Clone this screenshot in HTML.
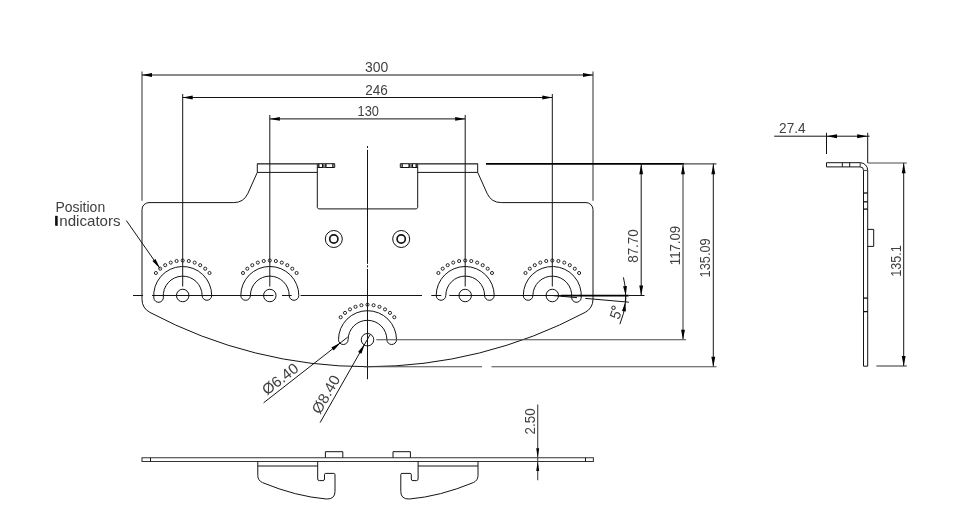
<!DOCTYPE html>
<html lang="en">
<head>
<meta charset="utf-8">
<title>Bracket drawing</title>
<style>
html,body{margin:0;padding:0;background:#fff;}
body{width:974px;height:525px;overflow:hidden;font-family:"Liberation Sans",sans-serif;}
svg{display:block;filter:blur(0.2px);}
.l{stroke:#141414;stroke-width:1;fill:none;}
.g{stroke:#4a4a4a;stroke-width:1.15;fill:none;}
.g2{stroke:#333;stroke-width:1.05;fill:none;}
.d{stroke:#1c1c1c;stroke-width:.95;fill:none;}
.k{stroke:#111;stroke-width:1.5;fill:none;}
.k3{stroke:#161616;stroke-width:1.7;fill:none;}
.g3{stroke:#505050;stroke-width:1.6;fill:none;}
.h{stroke:#111;stroke-width:1.3;fill:none;}
.k2{stroke:#000;stroke-width:1.8;fill:none;}
.a{fill:#000;stroke:none;}
text{font-family:"Liberation Sans",sans-serif;font-size:15px;fill:#404040;}
</style>
</head>
<body>
<svg width="974" height="525" viewBox="0 0 974 525">
<rect width="974" height="525" fill="#fff"/>
<path class="l" d="M153.81 298.03 A29 29 0 1 1 211.7 295.5 A4.8 4.8 0 0 1 202.1 295.5 A19.4 19.4 0 1 0 163.37 297.19 A4.8 4.8 0 0 1 153.81 298.03 Z"/>
<circle class="l" cx="182.7" cy="295.5" r="6.25"/>
<circle class="d" cx="209.51" cy="273" r="1.55"/>
<circle class="d" cx="205.2" cy="268.69" r="1.55"/>
<circle class="d" cx="200.2" cy="265.19" r="1.55"/>
<circle class="d" cx="194.67" cy="262.61" r="1.55"/>
<circle class="d" cx="188.78" cy="261.03" r="1.55"/>
<circle class="d" cx="182.7" cy="260.5" r="1.55"/>
<circle class="d" cx="176.62" cy="261.03" r="1.55"/>
<circle class="d" cx="170.73" cy="262.61" r="1.55"/>
<circle class="d" cx="165.2" cy="265.19" r="1.55"/>
<circle class="d" cx="160.2" cy="268.69" r="1.55"/>
<circle class="d" cx="155.89" cy="273" r="1.55"/>
<path class="l" d="M240.8 295.5 A29 29 0 1 1 298.8 295.5 A4.8 4.8 0 0 1 289.2 295.5 A19.4 19.4 0 1 0 250.4 295.5 A4.8 4.8 0 0 1 240.8 295.5 Z"/>
<circle class="l" cx="269.8" cy="295.5" r="6.25"/>
<circle class="d" cx="296.61" cy="273" r="1.55"/>
<circle class="d" cx="292.3" cy="268.69" r="1.55"/>
<circle class="d" cx="287.3" cy="265.19" r="1.55"/>
<circle class="d" cx="281.77" cy="262.61" r="1.55"/>
<circle class="d" cx="275.88" cy="261.03" r="1.55"/>
<circle class="d" cx="269.8" cy="260.5" r="1.55"/>
<circle class="d" cx="263.72" cy="261.03" r="1.55"/>
<circle class="d" cx="257.83" cy="262.61" r="1.55"/>
<circle class="d" cx="252.3" cy="265.19" r="1.55"/>
<circle class="d" cx="247.3" cy="268.69" r="1.55"/>
<circle class="d" cx="242.99" cy="273" r="1.55"/>
<path class="l" d="M436.2 295.5 A29 29 0 1 1 494.2 295.5 A4.8 4.8 0 0 1 484.6 295.5 A19.4 19.4 0 1 0 445.8 295.5 A4.8 4.8 0 0 1 436.2 295.5 Z"/>
<circle class="l" cx="465.2" cy="295.5" r="6.25"/>
<circle class="d" cx="492.01" cy="273" r="1.55"/>
<circle class="d" cx="487.7" cy="268.69" r="1.55"/>
<circle class="d" cx="482.7" cy="265.19" r="1.55"/>
<circle class="d" cx="477.17" cy="262.61" r="1.55"/>
<circle class="d" cx="471.28" cy="261.03" r="1.55"/>
<circle class="d" cx="465.2" cy="260.5" r="1.55"/>
<circle class="d" cx="459.12" cy="261.03" r="1.55"/>
<circle class="d" cx="453.23" cy="262.61" r="1.55"/>
<circle class="d" cx="447.7" cy="265.19" r="1.55"/>
<circle class="d" cx="442.7" cy="268.69" r="1.55"/>
<circle class="d" cx="438.39" cy="273" r="1.55"/>
<path class="l" d="M523.3 295.5 A29 29 0 1 1 581.19 298.03 A4.8 4.8 0 0 1 571.63 297.19 A19.4 19.4 0 1 0 532.9 295.5 A4.8 4.8 0 0 1 523.3 295.5 Z"/>
<circle class="l" cx="552.3" cy="295.5" r="6.25"/>
<circle class="d" cx="579.11" cy="273" r="1.55"/>
<circle class="d" cx="574.8" cy="268.69" r="1.55"/>
<circle class="d" cx="569.8" cy="265.19" r="1.55"/>
<circle class="d" cx="564.27" cy="262.61" r="1.55"/>
<circle class="d" cx="558.38" cy="261.03" r="1.55"/>
<circle class="d" cx="552.3" cy="260.5" r="1.55"/>
<circle class="d" cx="546.22" cy="261.03" r="1.55"/>
<circle class="d" cx="540.33" cy="262.61" r="1.55"/>
<circle class="d" cx="534.8" cy="265.19" r="1.55"/>
<circle class="d" cx="529.8" cy="268.69" r="1.55"/>
<circle class="d" cx="525.49" cy="273" r="1.55"/>
<path class="l" d="M338.5 339.7 A29 29 0 1 1 396.5 339.7 A4.8 4.8 0 0 1 386.9 339.7 A19.4 19.4 0 1 0 348.1 339.7 A4.8 4.8 0 0 1 338.5 339.7 Z"/>
<circle class="l" cx="367.5" cy="339.7" r="6.25"/>
<circle class="d" cx="394.31" cy="317.2" r="1.55"/>
<circle class="d" cx="390" cy="312.89" r="1.55"/>
<circle class="d" cx="385" cy="309.39" r="1.55"/>
<circle class="d" cx="379.47" cy="306.81" r="1.55"/>
<circle class="d" cx="373.58" cy="305.23" r="1.55"/>
<circle class="d" cx="367.5" cy="304.7" r="1.55"/>
<circle class="d" cx="361.42" cy="305.23" r="1.55"/>
<circle class="d" cx="355.53" cy="306.81" r="1.55"/>
<circle class="d" cx="350" cy="309.39" r="1.55"/>
<circle class="d" cx="345" cy="312.89" r="1.55"/>
<circle class="d" cx="340.69" cy="317.2" r="1.55"/>
<path class="l" d="M142 299.17 L142 209.6 A7 7 0 0 1 149 202.6 L233.7 202.6 A15.5 15.5 0 0 0 247.8 193.6 L257.3 172.4 L257.3 163.7 L317.3 163.7 L317.3 207.6 L318.5 208.9 L416.5 208.9 L417.7 207.6 L417.7 163.7 L477.7 163.7 L477.7 172.4 L487.2 193.6 A15.5 15.5 0 0 0 501.3 202.6 L586 202.6 A7 7 0 0 1 593 209.6 L593 299.17 A15 15 0 0 1 585.05 312.41 A463 463 0 0 1 149.95 312.41 A15 15 0 0 1 142 299.17 Z"/>
<line class="l" x1="257.3" y1="172.4" x2="317.3" y2="172.4"/>
<line class="l" x1="477.7" y1="172.4" x2="417.7" y2="172.4"/>
<path class="l" d="M317.3 163.7 L334.7 163.7 L334.7 167.5 L317.3 167.5"/>
<rect x="322.6" y="163.7" width="3.3" height="3.8" fill="#8a8a8a"/>
<line class="g3" x1="257.3" y1="163.7" x2="317.3" y2="163.7"/>
<line class="h" x1="318.8" y1="163.7" x2="318.8" y2="167.5"/>
<line class="h" x1="322.6" y1="163.7" x2="322.6" y2="167.5"/>
<line class="h" x1="325.9" y1="163.7" x2="325.9" y2="167.5"/>
<line class="h" x1="332.9" y1="163.7" x2="332.9" y2="167.5"/>
<path class="l" d="M417.7 163.7 L400.3 163.7 L400.3 167.5 L417.7 167.5"/>
<rect x="409.1" y="163.7" width="3.3" height="3.8" fill="#8a8a8a"/>
<line class="g3" x1="477.7" y1="163.7" x2="417.7" y2="163.7"/>
<line class="h" x1="416.2" y1="163.7" x2="416.2" y2="167.5"/>
<line class="h" x1="412.4" y1="163.7" x2="412.4" y2="167.5"/>
<line class="h" x1="409.1" y1="163.7" x2="409.1" y2="167.5"/>
<line class="h" x1="402.1" y1="163.7" x2="402.1" y2="167.5"/>
<circle class="l" cx="333.8" cy="239" r="8.5"/>
<circle class="k3" cx="333.8" cy="239" r="4.1"/>
<circle class="l" cx="401.2" cy="239" r="8.5"/>
<circle class="k3" cx="401.2" cy="239" r="4.1"/>
<line class="l" x1="367.5" y1="146" x2="367.5" y2="148"/>
<line class="l" x1="367.5" y1="149.8" x2="367.5" y2="263.9"/>
<line class="l" x1="367.5" y1="265.3" x2="367.5" y2="267.4"/>
<line class="l" x1="367.5" y1="269" x2="367.5" y2="379.2"/>
<line class="l" x1="133" y1="295.5" x2="143" y2="295.5"/>
<line class="l" x1="152" y1="295.5" x2="273.5" y2="295.5"/>
<line class="l" x1="282" y1="295.5" x2="291.7" y2="295.5"/>
<line class="l" x1="300.6" y1="295.5" x2="422" y2="295.5"/>
<line class="l" x1="431.3" y1="295.5" x2="441.3" y2="295.5"/>
<line class="l" x1="449.3" y1="295.5" x2="561" y2="295.5"/>
<line class="g" x1="142" y1="71.5" x2="142" y2="200.8"/>
<line class="g" x1="593" y1="71.5" x2="593" y2="200.8"/>
<line class="l" x1="142" y1="75" x2="593" y2="75"/>
<polygon class="a" points="142,75 152,73.05 152,76.95"/>
<polygon class="a" points="593,75 583,76.95 583,73.05"/>
<line class="l" x1="182.7" y1="94" x2="182.7" y2="286.5"/>
<line class="l" x1="552.3" y1="94" x2="552.3" y2="286.5"/>
<line class="l" x1="182.7" y1="97.5" x2="552.3" y2="97.5"/>
<polygon class="a" points="182.7,97.5 192.7,95.55 192.7,99.45"/>
<polygon class="a" points="552.3,97.5 542.3,99.45 542.3,95.55"/>
<line class="l" x1="269.8" y1="115" x2="269.8" y2="286.5"/>
<line class="l" x1="465.2" y1="115" x2="465.2" y2="286.5"/>
<line class="l" x1="269.8" y1="118.9" x2="465.2" y2="118.9"/>
<polygon class="a" points="269.8,118.9 279.8,116.95 279.8,120.85"/>
<polygon class="a" points="465.2,118.9 455.2,120.85 455.2,116.95"/>
<text x="365" y="71.9" textLength="23.3" lengthAdjust="spacingAndGlyphs">300</text>
<text x="365.3" y="94.7" textLength="22.6" lengthAdjust="spacingAndGlyphs">246</text>
<text x="357.6" y="115.7" textLength="21.4" lengthAdjust="spacingAndGlyphs">130</text>
<line class="k2" x1="486" y1="163.9" x2="684" y2="163.9"/>
<line class="g" x1="684" y1="163.9" x2="716.5" y2="163.9"/>
<line class="l" x1="641.2" y1="163.7" x2="641.2" y2="295.5"/>
<polygon class="a" points="641.2,164.2 643.15,174.2 639.25,174.2"/>
<polygon class="a" points="641.2,295.5 639.25,285.5 643.15,285.5"/>
<line class="l" x1="628.7" y1="295.5" x2="644.5" y2="295.5"/>
<line class="g" x1="683" y1="163.7" x2="683" y2="339.7"/>
<polygon class="a" points="683,164.2 684.95,174.2 681.05,174.2"/>
<polygon class="a" points="683,339.7 681.05,329.7 684.95,329.7"/>
<line class="g" x1="376.3" y1="339.7" x2="686" y2="339.7"/>
<line class="l" x1="713.3" y1="163.7" x2="713.3" y2="366.7"/>
<polygon class="a" points="713.3,164.2 715.25,174.2 711.35,174.2"/>
<polygon class="a" points="713.3,366.7 711.35,356.7 715.25,356.7"/>
<line class="g" x1="364" y1="366.7" x2="482" y2="366.7"/>
<line class="g" x1="491.5" y1="366.7" x2="716.5" y2="366.7"/>
<text x="638.4" y="262.8" transform="rotate(-90 638.4 262.8)" textLength="33.6" lengthAdjust="spacingAndGlyphs">87.70</text>
<text x="680.2" y="265.2" transform="rotate(-90 680.2 265.2)" textLength="39.4" lengthAdjust="spacingAndGlyphs">117.09</text>
<text x="710.5" y="277.4" transform="rotate(-90 710.5 277.4)" textLength="39.1" lengthAdjust="spacingAndGlyphs">135.09</text>
<line class="k2" x1="561" y1="295.6" x2="628.7" y2="295.6"/>
<line class="l" x1="585.3" y1="298.39" x2="628.9" y2="302.2"/>
<line class="l" x1="552.3" y1="295.5" x2="577" y2="297.66"/>
<path class="l" d="M623.43 277.37 A73.4 73.4 0 0 1 625.7 295.5"/>
<path class="l" d="M625.42 301.9 A73.4 73.4 0 0 1 619.87 324.18"/>
<polygon class="a" points="625.7,295.5 623.09,286.16 626.98,285.89"/>
<polygon class="a" points="625.42,301.9 625.86,311.59 622.01,310.98"/>
<text x="618.9" y="320.2" transform="rotate(-70 618.9 320.2)" textLength="7.8" lengthAdjust="spacingAndGlyphs">5</text>
<circle class="l" cx="613.5" cy="307.8" r="1.75"/>
<path class="h" d="M625.7 295.5 A73.4 73.4 0 0 1 625.42 301.9"/>
<line class="l" x1="126.3" y1="220.5" x2="160" y2="268.6"/>
<polygon class="a" points="160,268.6 152.42,261.09 155.53,258.91"/>
<text x="55.4" y="211.8" textLength="49.8" lengthAdjust="spacingAndGlyphs">Position</text>
<text x="55.1" y="225.7" textLength="65.5" lengthAdjust="spacingAndGlyphs">Indicators</text>
<rect x="55.1" y="215.8" width="2.0" height="9.9" fill="#111"/>
<line class="l" x1="263.6" y1="402.8" x2="347.6" y2="337.2"/>
<polygon class="a" points="340.8,342.5 333.69,350.46 331.36,347.47"/>
<line class="l" x1="320.1" y1="422.6" x2="370" y2="334.8"/>
<polygon class="a" points="364.9,343.8 361.36,353.87 358.06,351.99"/>
<text x="267" y="395.85" transform="rotate(-37.99 267 395.85)" textLength="41.5" lengthAdjust="spacingAndGlyphs">&#216;6.40</text>
<text x="320.1" y="415" transform="rotate(-60.39 320.1 415)" textLength="41.5" lengthAdjust="spacingAndGlyphs">&#216;8.40</text>
<path class="l" d="M826.5 166.9 L826.5 162.7 L860.2 162.7 A7.5 7.5 0 0 1 867.7 170.2 L867.7 366.2 L863.5 366.2 L863.5 170.2 A3.3 3.3 0 0 0 860.2 166.9 Z"/>
<line class="l" x1="842.3" y1="162.7" x2="842.3" y2="166.9"/>
<line class="l" x1="849.7" y1="162.7" x2="849.7" y2="166.9"/>
<line class="h" x1="863.5" y1="193" x2="867.7" y2="193"/>
<line class="h" x1="863.5" y1="201.8" x2="867.7" y2="201.8"/>
<line class="h" x1="863.5" y1="209.1" x2="867.7" y2="209.1"/>
<line class="h" x1="863.5" y1="298.1" x2="867.7" y2="298.1"/>
<line class="h" x1="863.5" y1="311.6" x2="867.7" y2="311.6"/>
<line class="g" x1="860.2" y1="162.7" x2="860.2" y2="167.2"/>
<line class="g" x1="863.2" y1="170.5" x2="867.7" y2="170.5"/>
<path class="l" d="M867.7 229.4 L873.7 229.4 L873.7 246.4 L867.7 246.4"/>
<line class="l" x1="774.2" y1="136.2" x2="869.6" y2="136.2"/>
<line class="l" x1="826.5" y1="132.8" x2="826.5" y2="154"/>
<line class="l" x1="867.7" y1="132.8" x2="867.7" y2="163"/>
<polygon class="a" points="826.5,136.2 837,134.25 837,138.15"/>
<polygon class="a" points="867.7,136.2 857.2,138.15 857.2,134.25"/>
<text x="779.1" y="133.2" textLength="26.5" lengthAdjust="spacingAndGlyphs">27.4</text>
<line class="g" x1="867.7" y1="163" x2="906.8" y2="163"/>
<line class="g" x1="876.4" y1="366" x2="906.8" y2="366"/>
<line class="l" x1="903.7" y1="163" x2="903.7" y2="366"/>
<polygon class="a" points="903.7,163.3 905.65,173.3 901.75,173.3"/>
<polygon class="a" points="903.7,366 901.75,356 905.65,356"/>
<text x="900.7" y="276.7" transform="rotate(-90 900.7 276.7)" textLength="31.5" lengthAdjust="spacingAndGlyphs">135.1</text>
<path class="g2" d="M142 457.7 L593.4 457.7 L593.4 461.45 L142 461.45 Z"/>
<line class="l" x1="150.5" y1="457.7" x2="150.5" y2="461.45"/>
<line class="l" x1="585.5" y1="457.7" x2="585.5" y2="461.45"/>
<path class="l" d="M257.8 461.45 L257.8 475.5 Q257.8 480.5 262.5 482.6 Q296 496.5 326.5 499 Q335 499.3 335 491.5 L335 474.6 Q335 473.4 333.8 473.4 L325.7 473.4 Q324.5 473.4 324.5 474.6 L324.5 479 Q324.5 480.6 322.9 480.6 L319.3 480.6 Q317.7 480.6 317.7 479 L317.7 461.45"/>
<line class="l" x1="257.8" y1="466" x2="317.7" y2="466"/>
<path class="l" d="M325.4 457.7 L325.4 451.7 L342.8 451.7 L342.8 457.7"/>
<path class="l" d="M478 461.45 L478 475.5 Q478 480.5 473.3 482.6 Q439.8 496.5 409.3 499 Q400.8 499.3 400.8 491.5 L400.8 474.6 Q400.8 473.4 402 473.4 L410.1 473.4 Q411.3 473.4 411.3 474.6 L411.3 479 Q411.3 480.6 412.9 480.6 L416.5 480.6 Q418.1 480.6 418.1 479 L418.1 461.45"/>
<line class="l" x1="478" y1="466" x2="418.1" y2="466"/>
<path class="l" d="M410.4 457.7 L410.4 451.7 L393 451.7 L393 457.7"/>
<line class="g" x1="537.7" y1="404.4" x2="537.7" y2="480.2"/>
<polygon class="a" points="537.7,457.7 536.2,448.2 539.2,448.2"/>
<polygon class="a" points="537.7,461.45 539.2,470.95 536.2,470.95"/>
<text x="535.3" y="434.4" transform="rotate(-90 535.3 434.4)" textLength="26" lengthAdjust="spacingAndGlyphs">2.50</text>
</svg>
</body>
</html>
